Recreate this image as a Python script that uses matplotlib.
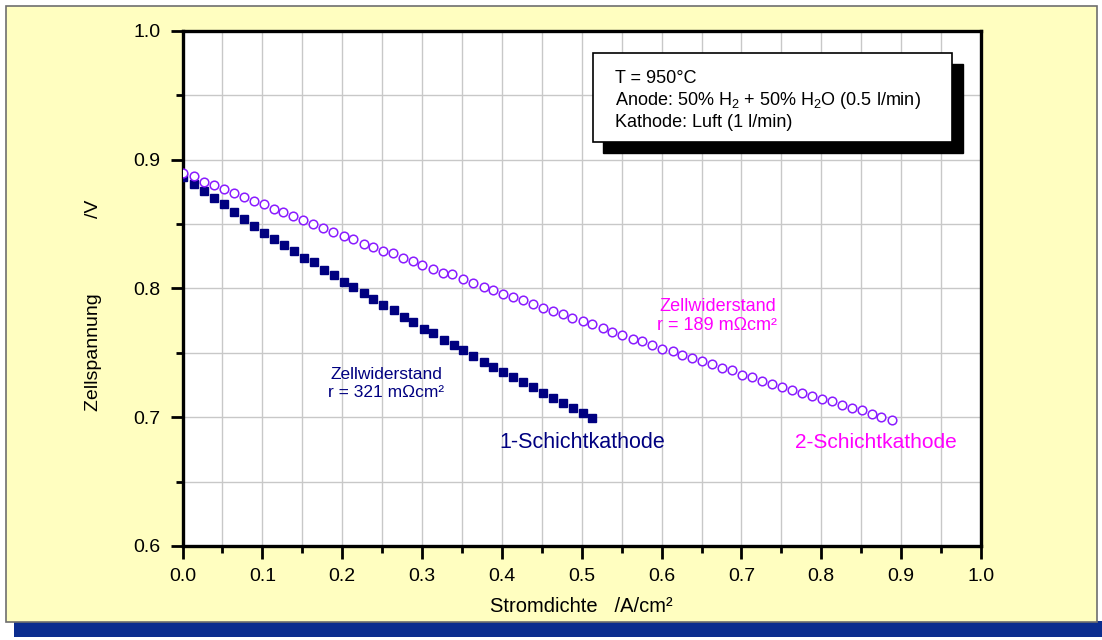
import matplotlib
matplotlib.use("Agg")
import matplotlib.pyplot as plt
from matplotlib.patches import Rectangle
from matplotlib.ticker import MultipleLocator, FormatStrFormatter

plt.rcParams['font.family'] = ['Liberation Sans', 'DejaVu Sans']
plt.rcParams['mathtext.fontset'] = 'custom'
plt.rcParams['mathtext.rm'] = 'Liberation Sans'
plt.rcParams['mathtext.it'] = 'Liberation Sans:italic'

# Kennlinie 1-Schichtkathode (Stromdichte A/cm², Zellspannung V)
j_1s = [0.001, 0.015, 0.027, 0.039, 0.052, 0.064, 0.077, 0.089, 0.102, 0.114,
        0.127, 0.140, 0.152, 0.165, 0.177, 0.190, 0.202, 0.214, 0.227, 0.239,
        0.251, 0.265, 0.277, 0.289, 0.302, 0.314, 0.327, 0.340, 0.351, 0.364,
        0.377, 0.389, 0.402, 0.414, 0.427, 0.439, 0.451, 0.464, 0.476, 0.489,
        0.501, 0.513]
u_1s = [0.8867, 0.8810, 0.8758, 0.8699, 0.8653, 0.8591, 0.8539, 0.8484, 0.8430, 0.8381,
        0.8340, 0.8291, 0.8239, 0.8203, 0.8146, 0.8105, 0.8053, 0.8012, 0.7963, 0.7921,
        0.7870, 0.7831, 0.7779, 0.7740, 0.7688, 0.7653, 0.7601, 0.7560, 0.7523, 0.7471,
        0.7428, 0.7389, 0.7350, 0.7312, 0.7270, 0.7231, 0.7190, 0.7151, 0.7112, 0.7071,
        0.7029, 0.6991]

# Kennlinie 2-Schichtkathode
j_2s = [0.001, 0.015, 0.027, 0.040, 0.052, 0.064, 0.077, 0.089, 0.102, 0.114,
        0.126, 0.139, 0.151, 0.164, 0.176, 0.189, 0.202, 0.214, 0.227, 0.239,
        0.251, 0.264, 0.276, 0.289, 0.300, 0.314, 0.326, 0.338, 0.351, 0.364,
        0.377, 0.389, 0.402, 0.414, 0.427, 0.439, 0.451, 0.464, 0.477, 0.488,
        0.501, 0.513, 0.526, 0.538, 0.551, 0.564, 0.576, 0.588, 0.601, 0.614,
        0.626, 0.638, 0.651, 0.663, 0.676, 0.688, 0.701, 0.713, 0.726, 0.738,
        0.751, 0.763, 0.776, 0.788, 0.801, 0.813, 0.826, 0.838, 0.851, 0.863,
        0.875, 0.888]
u_2s = [0.8896, 0.8872, 0.8828, 0.8801, 0.8769, 0.8739, 0.8708, 0.8679, 0.8651, 0.8619,
        0.8591, 0.8558, 0.8529, 0.8500, 0.8469, 0.8438, 0.8409, 0.8381, 0.8347, 0.8318,
        0.8288, 0.8271, 0.8238, 0.8212, 0.8181, 0.8151, 0.8120, 0.8109, 0.8070, 0.8040,
        0.8009, 0.7988, 0.7960, 0.7929, 0.7909, 0.7880, 0.7849, 0.7822, 0.7801, 0.7770,
        0.7743, 0.7722, 0.7692, 0.7663, 0.7640, 0.7609, 0.7588, 0.7560, 0.7531, 0.7513,
        0.7482, 0.7459, 0.7433, 0.7409, 0.7384, 0.7363, 0.7329, 0.7314, 0.7284, 0.7260,
        0.7233, 0.7209, 0.7190, 0.7161, 0.7138, 0.7122, 0.7093, 0.7071, 0.7052, 0.7023,
        0.7004, 0.6975]

NAVY = '#000080'
VIOLET = '#8A1CFF'
MAGENTA = '#FF00FF'

W, H = 1102, 640
fig = plt.figure(figsize=(W / 100, H / 100), dpi=100)
fig.patch.set_facecolor('white')

# gelber Hintergrund mit blauem Schatten unten
fig.patches.append(Rectangle((14 / W, 1 - 637 / H), (W - 14) / W, 16 / H,
                             transform=fig.transFigure, facecolor='#0B2D8E',
                             edgecolor='none', zorder=-2))
fig.patches.append(Rectangle((6 / W, 1 - 622 / H), 1091 / W, 616 / H,
                             transform=fig.transFigure, facecolor='#FFFEC0',
                             edgecolor='#6E6E6E', lw=1.2, zorder=-1))

ax = fig.add_axes([182.5 / W, 1 - 546 / H, 798.5 / W, 515.3 / H])
ax.set_facecolor('white')

ax.plot(j_1s, u_1s, ls='none', marker='s', ms=6, color=NAVY, mec=NAVY, zorder=3)
ax.plot(j_2s, u_2s, ls='none', marker='o', ms=6.2, mfc='white', mec=VIOLET, mew=1.1, zorder=3)

ax.set_xlim(0, 1)
ax.set_ylim(0.6, 1.0)
ax.xaxis.set_major_locator(MultipleLocator(0.1))
ax.xaxis.set_minor_locator(MultipleLocator(0.05))
ax.yaxis.set_major_locator(MultipleLocator(0.1))
ax.yaxis.set_minor_locator(MultipleLocator(0.05))
ax.xaxis.set_major_formatter(FormatStrFormatter('%.1f'))
ax.yaxis.set_major_formatter(FormatStrFormatter('%.1f'))
ax.grid(which='both', color='#C8C8C8', lw=1.0)
ax.set_axisbelow(True)

for s in ax.spines.values():
    s.set_linewidth(2.4)
ax.tick_params(which='major', direction='out', length=9, width=2, labelsize=14, pad=7)
ax.tick_params(which='minor', direction='out', length=5, width=2)

ax.set_xlabel('Stromdichte   /A/cm²', fontsize=14.5)
ax.xaxis.set_label_coords(0.5, -0.118)
ax.xaxis.label.set_va('center')
ax.set_ylabel('Zellspannung              /V', fontsize=14)
ax.yaxis.set_label_coords(-0.112, 0.468)
ax.yaxis.label.set_va('center')

# Beschriftung der Kurven
ax.text(0.255, 0.7265, 'Zellwiderstand\nr = 321 m\u03A9cm²', color=NAVY, fontsize=12.5,
        ha='center', va='center', linespacing=1.25)
ax.text(0.670, 0.7785, 'Zellwiderstand\nr = 189 m\u03A9cm²', color=MAGENTA, fontsize=13,
        ha='center', va='center', linespacing=1.2)
ax.text(0.397, 0.680, '1-Schichtkathode', color=NAVY, fontsize=15.5, ha='left', va='center')
ax.text(0.767, 0.680, '2-Schichtkathode', color=MAGENTA, fontsize=15, ha='left', va='center')

# Kasten mit Versuchsbedingungen
ax.add_patch(Rectangle((0.5265, 0.9051), 0.4505, 0.0690, facecolor='black',
                       edgecolor='black', lw=1, zorder=4))
ax.add_patch(Rectangle((0.514, 0.9136), 0.4497, 0.0691, facecolor='white',
                       edgecolor='black', lw=1.2, zorder=5))
ax.text(0.5417, 0.9628, 'T = 950°C', fontsize=13, va='center', zorder=6)
ax.text(0.5417, 0.9457, 'Anode: 50% H$_2$ + 50% H$_2$O (0.5 l/min)', fontsize=13,
        va='center', zorder=6)
ax.text(0.5417, 0.9287, 'Kathode: Luft (1 l/min)', fontsize=13, va='center', zorder=6)

fig.savefig('out.png', dpi=100)
